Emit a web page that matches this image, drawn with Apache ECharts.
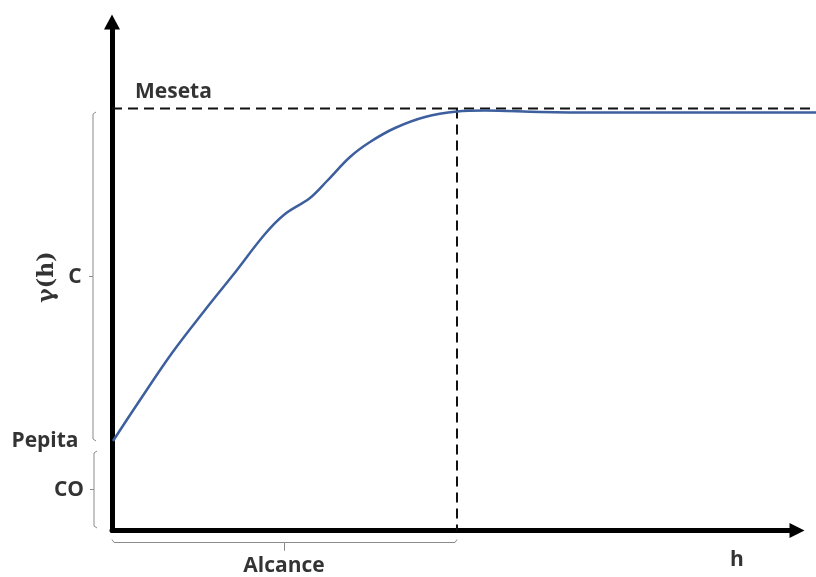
<!DOCTYPE html>
<html>
<head>
<meta charset="utf-8">
<script src="https://cdn.jsdelivr.net/npm/echarts@6/dist/echarts.min.js"></script>
<style>html,body{margin:0;padding:0;background:#fff}#c{width:816px;height:577px}</style>
</head>
<body>
<div id="c"></div>
<script>
// Variogram curve (h, gamma) in chart units
const curveH = [1,26,60,93,121,153,173,198,215,238,258,283,313,345,373,428,488,704];
const curveG = [89.5,127.5,177.5,220.5,255.5,296.5,316.5,332.5,349.5,373.5,388.5,402.5,413.5,419,420,418.5,418,418];
// Key values
const sill = 422;      // Meseta
const nugget = 89.5;   // Pepita
const range = 345;     // Alcance
const hMax = 704;
// Labels
const labels = [
  {name:'Meseta', h:23, g:438.5, align:'left'},
  {name:'C', h:-37, g:253.5, align:'center'},
  {name:'Pepita', h:-67, g:89.5, align:'center'},
  {name:'CO', h:-43, g:40.5, align:'center'},
  {name:'Alcance', h:172, g:-35.5, align:'center'},
  {name:'h', h:625, g:-29.5, align:'center'}
];

const chart = echarts.init(document.getElementById('c'));
const txt = {fontFamily:'Open Sans', fontWeight:'bold', fontSize:21, color:'#000'};
const bracketStyle = {color:'#8a8a8a', width:1};
function bracketV(x, y0, y1) {
  const m = (y0+y1)/2;
  return [[x+3,y0],[x,y0-2],[x,m],[x-4,m],[x,m],[x,y1+2],[x+3,y1]];
}
function bracketH(y, x0, x1) {
  const m = (x0+x1)/2;
  return [[x0,y+3],[x0+2,y],[m,y],[m,y-8],[m,y],[x1-2,y],[x1,y+3]];
}
const bracketSeries = (pts) => ({type:'line', xAxisIndex:1, yAxisIndex:1, data:pts, symbol:'none', silent:true,
  lineStyle:bracketStyle, z:1});
const hidden = {axisTick:{show:false}, axisLabel:{show:false}, splitLine:{show:false}, axisLine:{show:false}};

chart.setOption({
  animation:false,
  grid:[
    {left:112, right:19, top:22, bottom:46.5},
    {left:0, right:0, top:0, bottom:0}
  ],
  xAxis:[
    {type:'value', gridIndex:0, min:0, max:685, axisTick:{show:false}, axisLabel:{show:false}, splitLine:{show:false},
      axisLine:{show:true, symbol:['none','triangle'], symbolSize:[15,15], lineStyle:{color:'#000', width:5}}},
    {type:'value', gridIndex:1, min:-112, max:704, ...hidden}
  ],
  yAxis:[
    {type:'value', gridIndex:0, min:0, max:508, axisTick:{show:false}, axisLabel:{show:false}, splitLine:{show:false},
      axisLine:{show:true, symbol:['none','triangle'], symbolSize:[16,15], lineStyle:{color:'#000', width:5}}},
    {type:'value', gridIndex:1, min:-46.5, max:530.5, ...hidden}
  ],
  series:[
    {type:'line', xAxisIndex:1, yAxisIndex:1, data:[[0,sill],[hMax,sill]], symbol:'none',
      lineStyle:{color:'#111', width:2, type:[10,6]}, z:2},
    {type:'line', xAxisIndex:1, yAxisIndex:1, data:[[range,sill],[range,0]], symbol:'none',
      lineStyle:{color:'#111', width:2, type:[10,6]}, z:2},
    {type:'line', xAxisIndex:1, yAxisIndex:1, data:curveH.map((h,i)=>[h,curveG[i]]), symbol:'none', smooth:0.35,
      lineStyle:{color:'#3d5f9e', width:2.5}, z:3},
    bracketSeries(bracketV(-19, sill-3.5, nugget)),
    bracketSeries(bracketV(-18, 79.5, 2.5)),
    bracketSeries(bracketH(-12, 0, range)),
    {type:'scatter', xAxisIndex:1, yAxisIndex:1, symbolSize:0, silent:true,
      data:labels.map(l=>({value:[l.h,l.g], name:l.name, label:{align:l.align}})),
      label:{show:true, position:'inside', formatter:'{b}', verticalAlign:'middle', ...txt}},
    {type:'scatter', xAxisIndex:1, yAxisIndex:1, symbolSize:0, silent:true,
      data:[{value:[-65,253.5], name:'γ(h)'}],
      label:{show:true, position:'inside', formatter:'{b}', rotate:90, align:'center', verticalAlign:'middle',
        fontFamily:'DejaVu Serif', fontWeight:'bold', fontSize:22, color:'#000'}}
  ]
});
</script>
</body>
</html>
